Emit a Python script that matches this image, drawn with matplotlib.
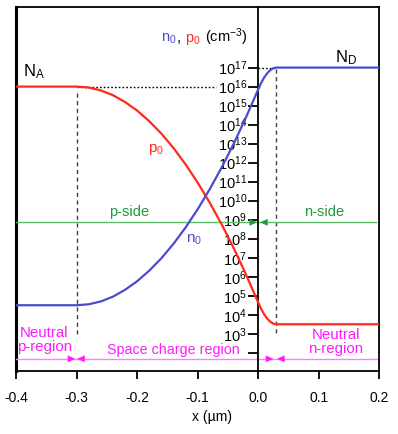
import numpy as np
import matplotlib
matplotlib.use("Agg")
import matplotlib.pyplot as plt
from matplotlib.ticker import FixedLocator, FixedFormatter, NullLocator
from matplotlib.offsetbox import TextArea, HPacker, AnnotationBbox

plt.rcParams["font.family"] = ["Liberation Sans", "DejaVu Sans"]
plt.rcParams["mathtext.fontset"] = "custom"
plt.rcParams["mathtext.rm"] = "Liberation Sans"
plt.rcParams["mathtext.it"] = "Liberation Sans"

# --- data (x in um, concentrations as log10 cm^-3) ---
x_pts = [-0.40, -0.30, -0.28, -0.26, -0.24, -0.22, -0.20, -0.18, -0.16, -0.14,
         -0.12, -0.10, -0.08, -0.06, -0.04, -0.02, 0.000, 0.005, 0.010, 0.015,
         0.020, 0.025, 0.030, 0.20]
log_p0 = [16.0, 16.0, 15.95, 15.8, 15.55, 15.19, 14.74, 14.18, 13.53, 12.77,
          11.91, 10.95, 9.89, 8.73, 7.47, 6.10, 4.64, 4.29, 4.01, 3.79,
          3.63, 3.53, 3.50, 3.50]
log_n0 = [4.50, 4.50, 4.55, 4.70, 4.95, 5.31, 5.76, 6.32, 6.97, 7.73,
          8.59, 9.55, 10.61, 11.77, 13.03, 14.40, 15.86, 16.21, 16.49, 16.71,
          16.87, 16.97, 17.0, 17.0]

x_p, x_n = -0.30, 0.03          # depletion edges
N_A, N_D = 1e16, 1e17
y_ticks = [10.0 ** k for k in range(2, 18)]
y_labels = [""] + [r"$10^{%d}$" % k for k in range(3, 18)]
x_ticks = [-0.4, -0.3, -0.2, -0.1, 0.0, 0.1, 0.2]
x_labels = ["-0.4", "-0.3", "-0.2", "-0.1", "0.0", "0.1", "0.2"]

RED = "#ff2a1a"
BLUE = "#4b4bd2"
GREEN_T = "#1f9a3c"
GREEN_L = "#5cbf68"
MAG_T = "#ff1aff"
MAG_L = "#ff7dff"

fig = plt.figure(figsize=(3.98, 4.34), dpi=100)
ax = fig.add_axes([0.0402, 0.146, 0.913, 0.838])

ax.set_xlim(-0.4, 0.2)
ax.set_yscale("log")
ax.set_ylim(10 ** 1.06, 10 ** 20.19)

# y axis drawn at x = 0, plain frame line at the left edge
ax.spines["left"].set_position(("data", 0))
for s in ax.spines.values():
    s.set_linewidth(1.3)
ax.axvline(-0.4, color="k", lw=2.2, clip_on=False)

ax.yaxis.set_major_locator(FixedLocator(y_ticks))
ax.yaxis.set_major_formatter(FixedFormatter(y_labels))
ax.yaxis.set_minor_locator(NullLocator())
ax.tick_params(axis="y", direction="out", length=7, width=1.3, labelsize=10.5, pad=1)
ax.set_xticks(x_ticks)
ax.set_xticklabels(x_labels)
ax.tick_params(axis="x", direction="out", length=6, width=1.3, labelsize=10, pad=9)

ax.set_xlabel("x (µm)", fontsize=10)
ax.xaxis.set_label_coords(0.539, -0.108)

# guide lines
ax.plot([x_p, -0.07], [N_A, N_A], ls=(0, (1.2, 1.5)), color="k", lw=1)
ax.plot([0, x_n], [N_D, N_D], ls=(0, (1.2, 1.5)), color="k", lw=1)
ax.plot([x_p, x_p], [10 ** 15.67, 10 ** 2.93], ls=(0, (3, 2.5)), color="#404040", lw=1)
ax.plot([x_n, x_n], [10 ** 16.9, 10 ** 2.93], ls=(0, (3, 2.5)), color="#404040", lw=1)

# carrier profiles
x = np.array(x_pts)
ax.plot(x, 10.0 ** np.array(log_p0), color=RED, lw=1.6, zorder=5)
ax.plot(x, 10.0 ** np.array(log_n0), color=BLUE, lw=1.6, zorder=5)

# green p-side / n-side line
y_g = 10 ** 8.86
ax.plot([-0.4, 0.195], [y_g, y_g], color=GREEN_L, lw=1)
for tip, tail in ((-0.002, -0.03), (0.003, 0.033)):
    ax.annotate("", xy=(tip, y_g), xytext=(tail, y_g), zorder=8,
                arrowprops=dict(arrowstyle="-|>,head_length=0.55,head_width=0.25",
                                color=GREEN_T, lw=0, shrinkA=0, shrinkB=0))
ax.text(-0.214, 10 ** 9.42, "p-side", color=GREEN_T, fontsize=10.5, ha="center", va="center")
ax.text(0.109, 10 ** 9.42, "n-side", color=GREEN_T, fontsize=10.5, ha="center", va="center")

# magenta region line
y_m = 10 ** 1.68
ax.plot([-0.4, 0.2], [y_m, y_m], color=MAG_L, lw=1)
for tip, tail in ((-0.302, -0.33), (-0.299, -0.27), (0.025, -0.005), (0.031, 0.06)):
    ax.annotate("", xy=(tip, y_m), xytext=(tail, y_m), zorder=8,
                arrowprops=dict(arrowstyle="-|>,head_length=0.55,head_width=0.25",
                                color=MAG_T, lw=0, shrinkA=0, shrinkB=0))
ax.text(-0.353, 10 ** 2.67, "Neutral\np-region", color=MAG_T, fontsize=10.8,
        ha="center", va="center", linespacing=1.0)
ax.text(-0.14, 10 ** 2.12, "Space charge region", color=MAG_T, fontsize=10.3,
        ha="center", va="center")
ax.text(0.128, 10 ** 2.58, "Neutral\nn-region", color=MAG_T, fontsize=10.8,
        ha="center", va="center", linespacing=1.0)

# labels on curves
ax.text(-0.371, 10 ** 16.77, r"N$_\mathrm{A}$", fontsize=12, ha="center", va="center")
ax.text(0.145, 10 ** 17.5, r"N$_\mathrm{D}$", fontsize=12, ha="center", va="center")
ax.text(-0.168, 10 ** 12.67, r"p$_0$", color=RED, fontsize=11, ha="center", va="center")
ax.text(-0.106, 10 ** 7.93, r"n$_0$", color=BLUE, fontsize=11, ha="center", va="center")

# axis title n0, p0 (cm-3) in mixed colours
parts = [TextArea(r"n$_0$", textprops=dict(color=BLUE, fontsize=10.5)),
         TextArea(", ", textprops=dict(color="k", fontsize=10.5)),
         TextArea(r"p$_0$", textprops=dict(color=RED, fontsize=10.5)),
         TextArea(r" (cm$^{-3}$)", textprops=dict(color="k", fontsize=10.5))]
box = HPacker(children=parts, align="baseline", pad=0, sep=0)
ab = AnnotationBbox(box, (-0.018, 10 ** 18.6), xycoords="data",
                    box_alignment=(1.0, 0.5), frameon=False, pad=0)
ax.add_artist(ab)

fig.savefig("out.png", dpi=100)
